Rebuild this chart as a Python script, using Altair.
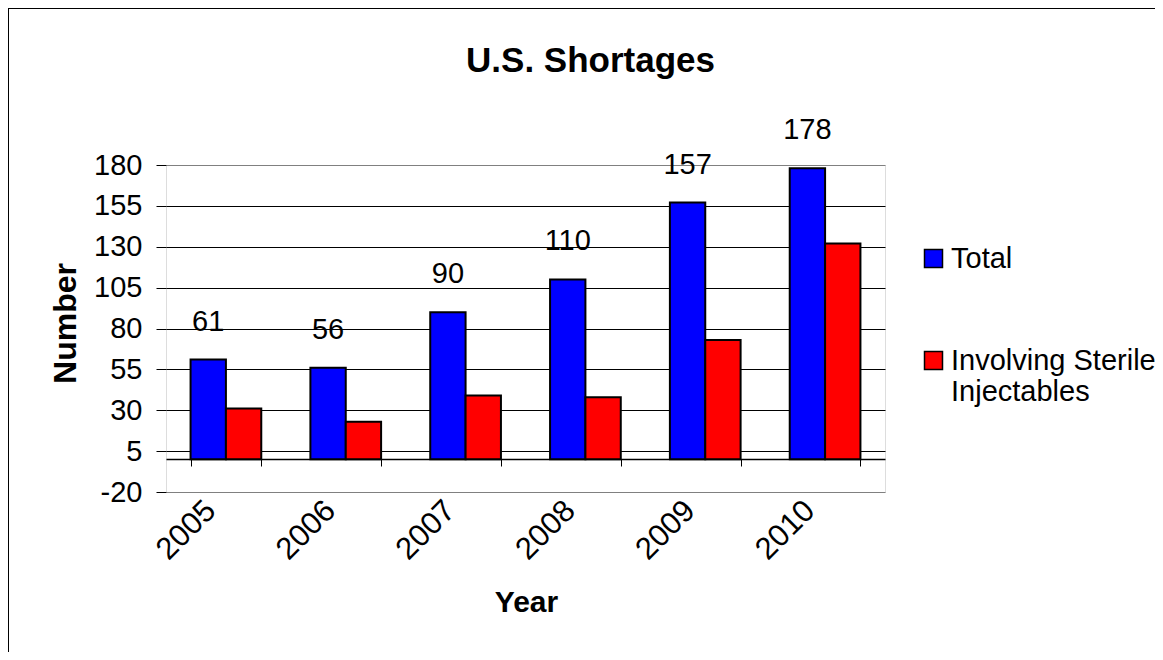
import altair as alt
import pandas as pd

years = ["2005", "2006", "2007", "2008", "2009", "2010"]
total = [61, 56, 90, 110, 157, 178]
sterile = [31, 23, 39, 38, 73, 132]
series_names = ["Total", "Involving Sterile Injectables"]
series_colors = ["#0000FF", "#FF0000"]
y_ticks = [-20, 5, 30, 55, 80, 105, 130, 155, 180]

rows = []
for i, yr in enumerate(years):
    rows.append({"Year": yr, "series": series_names[0], "value": total[i]})
    rows.append({"Year": yr, "series": series_names[1], "value": sterile[i]})
df = pd.DataFrame(rows)

FONT = "Liberation Sans, Arial"
FS = 29

x_enc = alt.X(
    "Year:N",
    sort=years,
    scale=alt.Scale(paddingInner=0.41, paddingOuter=0.205),
    axis=alt.Axis(
        title="Year",
        titleFont=FONT,
        titleFontSize=30,
        titleFontWeight="bold",
        titleColor="black",
        titleX=360,
        titleY=143,
        titleBaseline="middle",
        titleAlign="center",
        labelAngle=-45,
        labelFont=FONT,
        labelFontSize=31,
        labelColor="black",
        labelPadding=29,
        labelOffset=-26,
        offset=-33,
        domain=True,
        domainColor="black",
        domainWidth=1.5,
        ticks=True,
        tickBand="extent",
        tickColor="black",
        tickSize=7,
        tickWidth=1,
        grid=False,
    ),
)

y_scale = alt.Scale(domain=[-20, 180], nice=False, zero=False)

bars = alt.Chart(df).mark_bar(stroke="black", strokeWidth=2).encode(
    x=x_enc,
    xOffset=alt.XOffset("series:N", sort=series_names,
                        scale=alt.Scale(domain=series_names, paddingInner=0, paddingOuter=0)),
    y=alt.Y(
        "value:Q",
        scale=y_scale,
        axis=alt.Axis(
            title="Number",
            titleFont=FONT,
            titleFontSize=32,
            titleFontWeight="bold",
            titleColor="black",
            titleX=-101,
            titleY=158,
            titleAngle=-90,
            titleBaseline="middle",
            titleAlign="center",
            values=y_ticks,
            labelExpr="toString(datum.value)",
            labelFont=FONT,
            labelFontSize=FS,
            labelColor="black",
            labelPadding=14,
            domain=False,
            ticks=True,
            tickColor="black",
            tickSize=10,
            tickWidth=1,
            grid=True,
            gridColor={"condition": {"test": "datum.value == 180 || datum.value == -20",
                                     "value": "#808080"}, "value": "black"},
            gridWidth=1,
        ),
    ),
    y2=alt.datum(0),
    color=alt.Color(
        "series:N",
        sort=series_names,
        scale=alt.Scale(domain=series_names, range=series_colors),
        legend=alt.Legend(
            title=None,
            orient="none",
            legendX=753,
            legendY=79,
            padding=0,
            symbolType="square",
            symbolSize=324,
            symbolStrokeColor="black",
            symbolStrokeWidth=1.5,
            symbolOpacity=1,
            labelFont=FONT,
            labelFontSize=FS,
            labelColor="black",
            labelOffset=3,
            labelLimit=400,
            rowPadding=72,
            labelExpr="datum.label == 'Involving Sterile Injectables' ? ['Involving Sterile', 'Injectables'] : datum.label",
        ),
    ),
)

labels = alt.Chart(df).transform_filter(
    alt.datum.series == "Total"
).mark_text(dy=-38, fontSize=FS, font=FONT, color="black", baseline="middle", align="center").encode(
    x=alt.X("Year:N", sort=years),
    xOffset=alt.XOffset("series:N", sort=series_names),
    y=alt.Y("value:Q", scale=y_scale),
    text=alt.Text("value:Q"),
)

border = alt.Chart(alt.Data(values=[{"a": 1}])).mark_rect(
    filled=False, stroke="black", strokeWidth=2, clip=False
).encode(
    x=alt.value(-158),
    x2=alt.value(1400),
    y=alt.value(-157),
    y2=alt.value(1000),
)

chart = alt.layer(bars, labels, border).properties(
    width=719,
    height=327,
    padding={"left": 158, "top": 157, "right": 270, "bottom": 160},
    autosize=alt.AutoSizeParams(type="none"),
    title=alt.TitleParams(
        "U.S. Shortages",
        font=FONT,
        fontSize=35,
        fontWeight="bold",
        color="black",
        anchor="middle",
        frame="group",
        dx=65,
        offset=-100,
        baseline="alphabetic",
    ),
).configure_view(
    fill="#C0C0C0", stroke="#808080", strokeWidth=2
).configure(background="white")

chart.save("out.html", embed_options={"renderer": "svg", "actions": False})
